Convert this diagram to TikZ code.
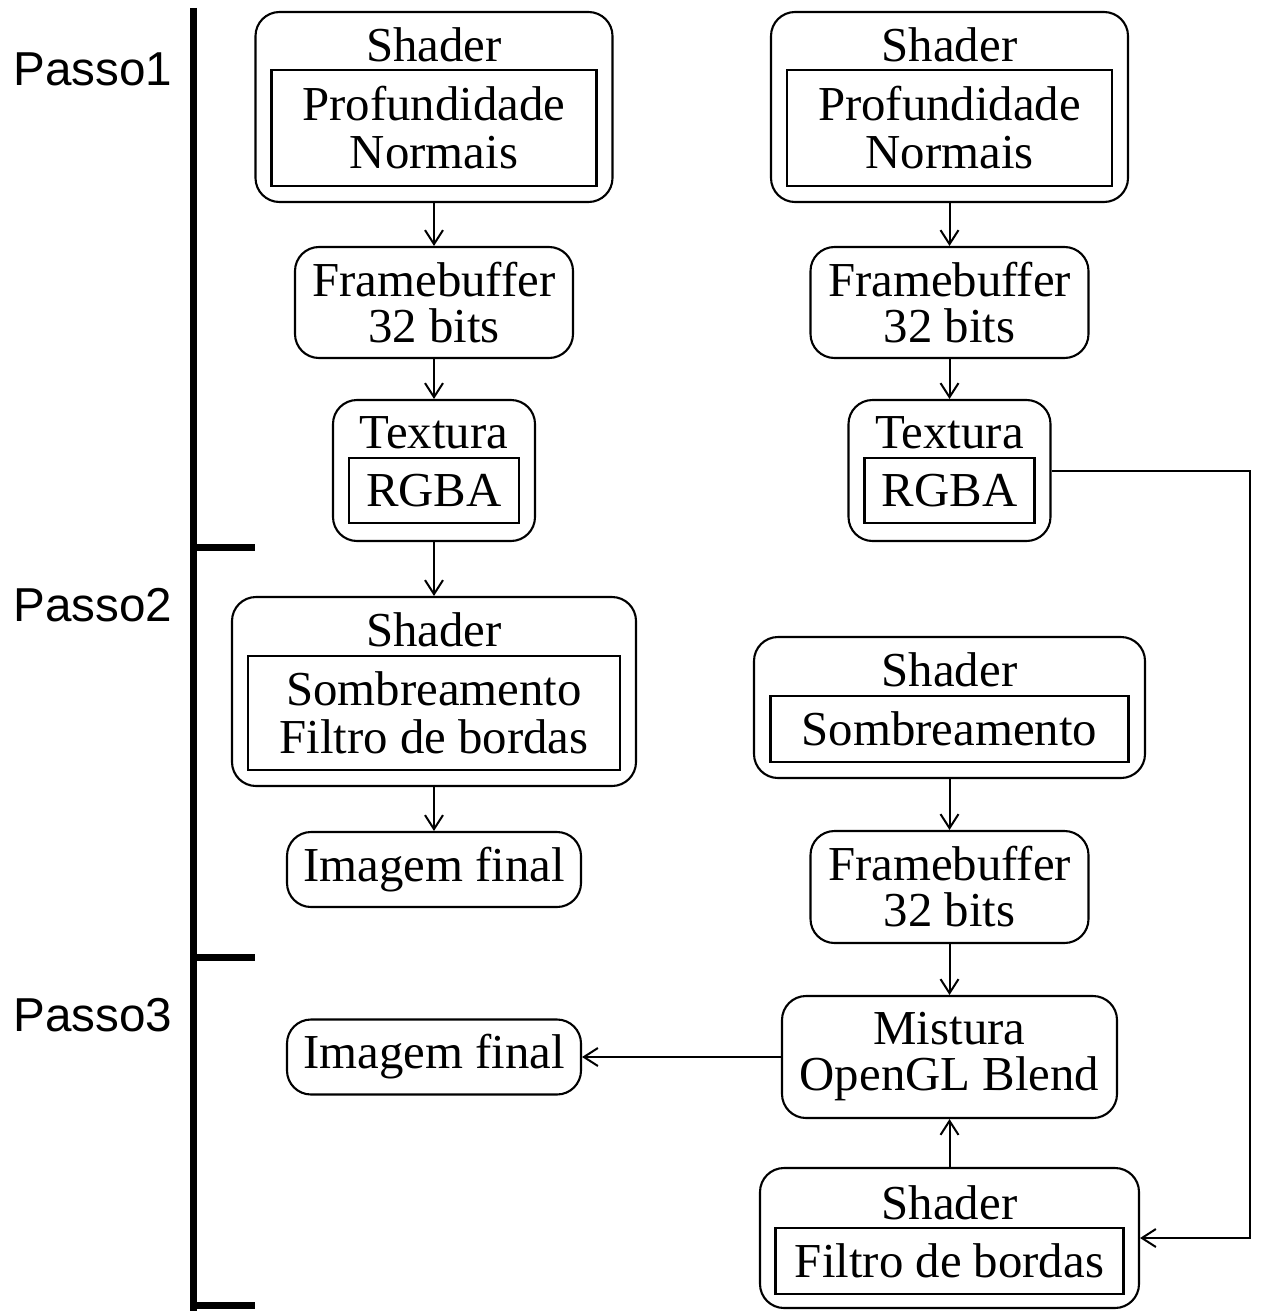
\documentclass[tikz,border=0pt]{standalone}
\usepackage{fontspec}
\setmainfont{Liberation Serif}
\newfontfamily\stepfont{Liberation Sans}
\usetikzlibrary{arrows.meta}

\begin{document}
\begin{tikzpicture}[x=1pt, y=-1pt,
        box/.style={rectangle, draw, rounded corners=24pt, line width=2.1pt,
                    inner sep=0pt, align=center, font=\fontsize{48.8}{46}\selectfont},
        inbox/.style={rectangle, draw, line width=2.1pt, inner sep=0pt,
                    align=center, font=\fontsize{48.8}{48}\selectfont},
        boxtitle/.style={inner sep=0pt, font=\fontsize{48.8}{46}\selectfont},
        passo/.style={inner sep=0pt, font=\stepfont\fontsize{47.6}{47}\selectfont},
        arrow/.style={-{Straight Barb[length=14pt,width=18pt,line width=2pt]}, line width=2pt},
        bar/.style={line width=7pt}
    ]
        \useasboundingbox (0,0) rectangle (1287,1311);

        % steps bar
        \draw[bar] (193,8) -- (193,1311);
        \draw[bar] (190,547) -- (255,547);
        \draw[bar] (190,957) -- (255,957);
        \draw[bar] (190,1305) -- (255,1305);
        \node[passo] (p1) at (93,69) {Passo1};
        \node[passo] (p2) at (93,605) {Passo2};
        \node[passo] (p3) at (93,1015) {Passo3};

        % left column
        \node[box, minimum width=357pt, minimum height=190pt] (shA) at (434,107) {};
        \node[boxtitle] (shAt) at (434,45) {Shader};
        \node[inbox, minimum width=325pt, minimum height=116pt] (shAin) at (434,128) {Profundidade\\Normais};
        \node[box, minimum width=278pt, minimum height=111pt] (fbA) at (434,302.5) {Framebuffer\\32 bits};
        \node[box, minimum width=202pt, minimum height=141pt] (txA) at (434,470.5) {};
        \node[boxtitle] (txAt) at (434,433) {Textura};
        \node[inbox, minimum width=170pt, minimum height=65pt] (txAin) at (434,490.5) {RGBA};
        \node[box, minimum width=404pt, minimum height=189pt] (shB) at (434,691.5) {};
        \node[boxtitle] (shBt) at (434,630) {Shader};
        \node[inbox, minimum width=372pt, minimum height=114pt] (shBin) at (434,713) {Sombreamento\\Filtro de bordas};
        \node[box, minimum width=294pt, minimum height=75pt] (imA) at (434,869.5) {Imagem final};
        \node[box, minimum width=294pt, minimum height=75pt] (imB) at (434,1057) {Imagem final};

        % right column
        \node[box, minimum width=357pt, minimum height=190pt] (shC) at (949.5,107) {};
        \node[boxtitle] (shCt) at (949.5,45) {Shader};
        \node[inbox, minimum width=325pt, minimum height=116pt] (shCin) at (949.5,128) {Profundidade\\Normais};
        \node[box, minimum width=278pt, minimum height=111pt] (fbC) at (949.5,302.5) {Framebuffer\\32 bits};
        \node[box, minimum width=202pt, minimum height=141pt] (txC) at (949.5,470.5) {};
        \node[boxtitle] (txCt) at (949.5,433) {Textura};
        \node[inbox, minimum width=170pt, minimum height=65pt] (txCin) at (949.5,490.5) {RGBA};
        \node[box, minimum width=391pt, minimum height=141pt] (shD) at (949.5,707.5) {};
        \node[boxtitle] (shDt) at (949.5,670) {Shader};
        \node[inbox, minimum width=358pt, minimum height=66pt] (shDin) at (949.5,729) {Sombreamento};
        \node[box, minimum width=278pt, minimum height=112pt] (fbD) at (949.5,887) {Framebuffer\\32 bits};
        \node[box, minimum width=335pt, minimum height=122pt] (mix) at (949.5,1057) {Mistura\\OpenGL Blend};
        \node[box, minimum width=379pt, minimum height=140pt] (shE) at (949.5,1238) {};
        \node[boxtitle] (shEt) at (949.5,1203) {Shader};
        \node[inbox, minimum width=348pt, minimum height=66pt] (shEin) at (949.5,1261) {Filtro de bordas};
        \coordinate (rail) at (1250,470.5);

        \draw[arrow] (shA) -- (fbA);
        \draw[arrow] (fbA) -- (txA);
        \draw[arrow] (txA) -- (shB);
        \draw[arrow] (shB) -- (imA);
        \draw[arrow] (shC) -- (fbC);
        \draw[arrow] (fbC) -- (txC);
        \draw[arrow] (shD) -- (fbD);
        \draw[arrow] (fbD) -- (mix);
        \draw[arrow] (shE) -- (mix);
        \draw[arrow] (mix) -- (imB);
        \draw[arrow] (txC.east) -- (rail) |- (shE.east);
    \end{tikzpicture}
\end{document}
